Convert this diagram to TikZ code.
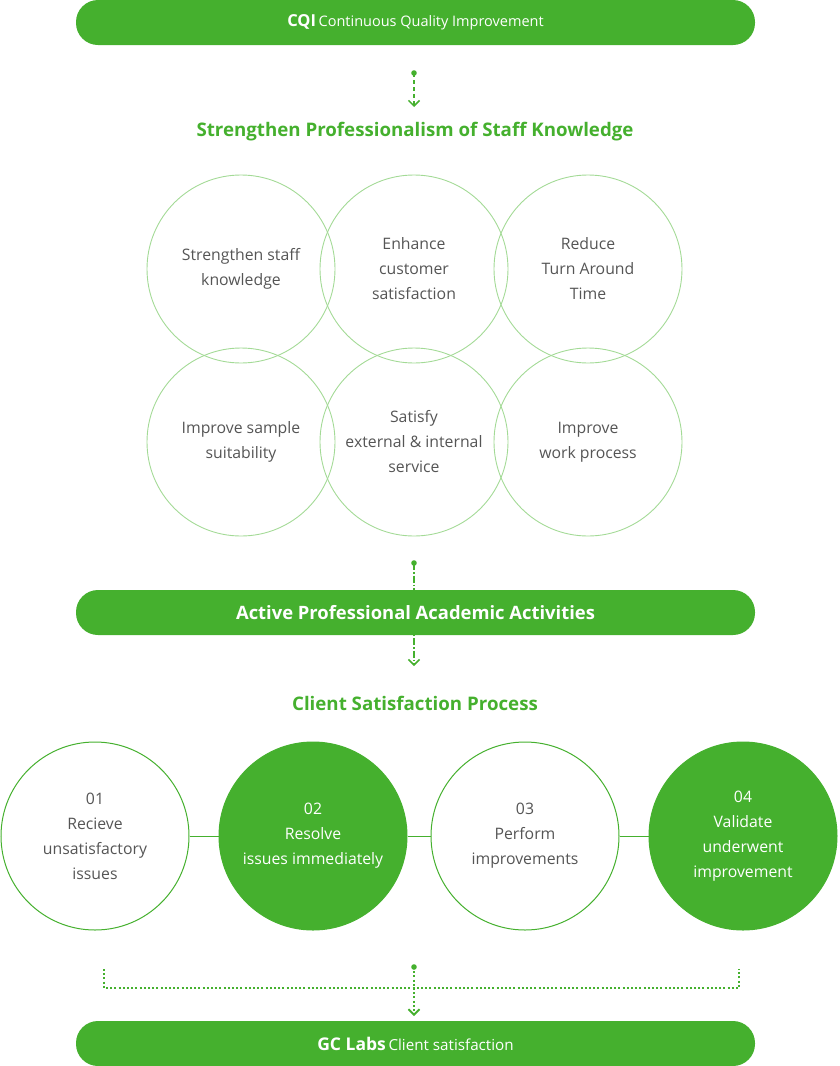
\documentclass[tikz,border=0pt]{standalone}
\usepackage{fontspec}
\setmainfont{Open Sans}
\usetikzlibrary{arrows.meta,positioning}
\definecolor{gcgreen}{HTML}{45B02E}
\definecolor{gclight}{HTML}{A3DA96}
\definecolor{gctext}{HTML}{555555}
\tikzset{
  banner/.style={fill=gcgreen,rounded corners=22pt,minimum width=679pt,minimum height=45pt,inner sep=0pt,text=white},
  heading/.style={text=gcgreen,font=\fontsize{18.7}{22}\selectfont\bfseries},
  goal/.style={circle,draw=gclight,line width=0.9pt,minimum size=188pt,inner sep=0pt,align=center,text=gctext,font=\fontsize{15.8}{25}\selectfont},
  stage/.style={circle,draw=gcgreen,line width=1pt,minimum size=188pt,inner sep=0pt,align=center,text=gctext,font=\fontsize{15.8}{25}\selectfont},
  stagefull/.style={stage,fill=gcgreen,text=white},
  flow/.style={draw=gcgreen,line width=1.5pt,-{Straight Barb[length=5.5pt,width=11pt]}},
  knob/.style={fill=gcgreen}
}
\begin{document}
\begin{tikzpicture}[x=1pt,y=-1pt]
\useasboundingbox (0,0) rectangle (839,1066);

% banners and headings
\node[banner] (cqi) at (415.5,22.5) {{\fontsize{16.5}{16}\selectfont\bfseries CQI} {\fontsize{14.5}{14}\selectfont Continuous Quality Improvement}};
\node[heading] (staff) at (415,132) {Strengthen Professionalism of Staff Knowledge};
\node[heading] (client) at (415,703) {Client Satisfaction Process};
\node[banner] (gclabs) at (415.5,1043.5) {{\fontsize{17.5}{16}\selectfont\bfseries GC Labs} {\fontsize{15.2}{14}\selectfont Client satisfaction}};

% goal circles
\node[goal] (g1) at (241,269) {Strengthen staff\\knowledge};
\node[goal] (g2) at (414,269) {Enhance\\customer\\satisfaction};
\node[goal] (g3) at (588,269) {Reduce\\Turn Around\\Time};
\node[goal] (g4) at (241,442) {Improve sample\\suitability};
\node[goal] (g5) at (414,442) {Satisfy\\external \& internal\\service};
\node[goal] (g6) at (588,442) {Improve\\work process};

% process circles
\node[stage] (s1) at (95,836) {01\\Recieve\\unsatisfactory\\issues};
\node[stagefull] (s2) at (313,836) {02\\Resolve\\issues immediately};
\node[stage] (s3) at (525,836) {03\\Perform\\improvements};
\node[stagefull] (s4) at (743,836) {04\\Validate\\underwent\\improvement};
\draw[gcgreen,line width=1pt] (s1) -- (s2);
\draw[gcgreen,line width=1pt] (s2) -- (s3);
\draw[gcgreen,line width=1pt] (s3) -- (s4);

% arrows
\coordinate (d1) at (414,73);
\coordinate (e1) at (414,107);
\fill[knob] (d1) circle (2.8);
\draw[flow,dash pattern=on 4pt off 3pt] (d1) -- (e1);

\coordinate (d2) at (414,563);
\coordinate (e2) at (414,666);
\fill[knob] (d2) circle (2.8);
\draw[flow,dash pattern=on 7pt off 2pt on 1.5pt off 2pt] (d2) -- (e2);
\node[banner,font=\fontsize{18.4}{18}\selectfont\bfseries] (academic) at (415.5,612.5) {Active Professional Academic Activities};

\coordinate (bl) at (104,969);
\coordinate (br) at (739,969);
\draw[gcgreen,line width=1.8pt,dash pattern=on 2pt off 2.2pt] (bl) -- ++(0,19) -| (br);
\coordinate (d3) at (414,967);
\coordinate (e3) at (414,1016);
\fill[knob] (d3) circle (2.8);
\draw[flow,line width=1.8pt,dash pattern=on 2pt off 2.2pt] (d3) -- (e3);
\end{tikzpicture}
\end{document}
